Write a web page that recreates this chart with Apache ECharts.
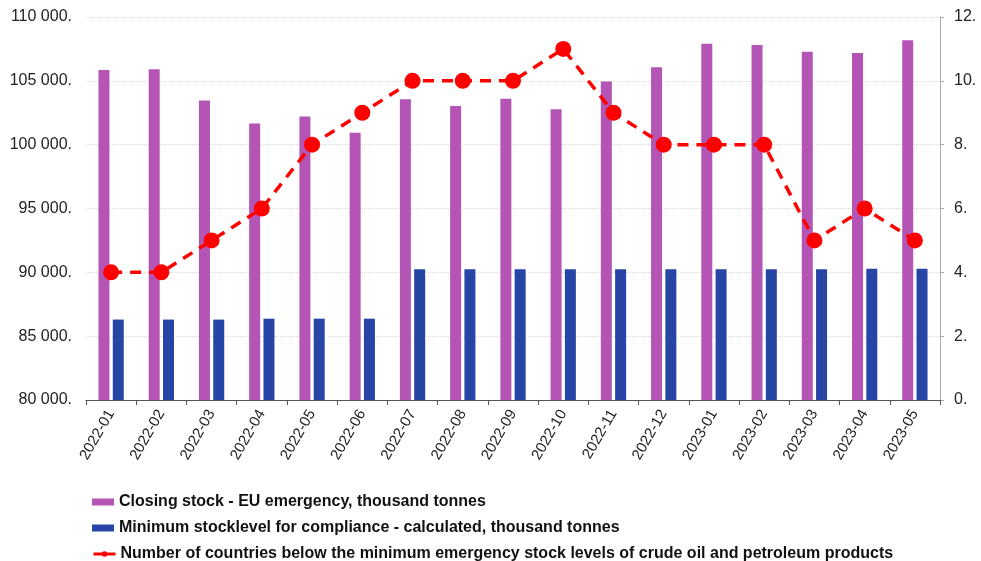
<!DOCTYPE html>
<html>
<head>
<meta charset="utf-8">
<script src="https://cdn.jsdelivr.net/npm/echarts@6/dist/echarts.min.js"></script>
<style>
  html, body { margin: 0; padding: 0; background: #fff; }
  #main { width: 981px; height: 561px; }
</style>
</head>
<body>
<div id="main"></div>
<script>
var months = ['2022-01', '2022-02', '2022-03', '2022-04', '2022-05', '2022-06', '2022-07', '2022-08', '2022-09',
    '2022-10', '2022-11', '2022-12', '2023-01', '2023-02', '2023-03', '2023-04', '2023-05'];
var closingStock = [105850, 105900, 103450, 101650, 102200, 100940, 103550, 103030, 103600,
    102770, 104940, 106060, 107910, 107810, 107280, 107180, 108180];
var minStock = [86300, 86300, 86300, 86370, 86370, 86370, 90240, 90240, 90240,
    90240, 90240, 90240, 90240, 90240, 90240, 90290, 90290];
var countriesBelow = [4, 4, 5, 6, 8, 9, 10, 10, 10, 11, 9, 8, 8, 8, 5, 6, 5];

var nameClosing = 'Closing stock - EU emergency, thousand tonnes';
var nameMin = 'Minimum stocklevel for compliance - calculated, thousand tonnes';
var nameCount = 'Number of countries below the minimum emergency stock levels of crude oil and petroleum products';

var myChart = echarts.init(document.getElementById('main'));

// "110 000." style labels
function fmtLeft(v) {
    var s = String(Math.round(v));
    return s.replace(/\B(?=(\d{3})+(?!\d))/g, ' ') + '.';
}

// one legend per row, stacked at the bottom
function legendRow(name, top, extra) {
    var item = Object.assign({name: name}, extra || {});
    return {
        left: 87,
        top: top,
        itemWidth: 22,
        itemHeight: 7,
        itemGap: 4,
        textStyle: {color: '#111', fontSize: 16, fontWeight: 'bold'},
        data: [item]
    };
}

var option = {
    animation: false,
    textStyle: {fontFamily: 'Liberation Sans, Arial, sans-serif'},
    grid: {left: 86, right: 41, top: 17, bottom: 161},
    legend: [
        legendRow(nameClosing, 489, {icon: 'rect'}),
        legendRow(nameMin, 515, {icon: 'rect'}),
        legendRow(nameCount, 541, {lineStyle: {type: 'solid', width: 3}})
    ],
    xAxis: {
        type: 'category',
        data: months,
        axisLine: {lineStyle: {color: '#555'}},
        axisTick: {show: true, lineStyle: {color: '#555'}},
        axisLabel: {rotate: 60, color: '#222', fontSize: 15, margin: 11}
    },
    yAxis: [
        {
            type: 'value',
            min: 80000,
            max: 110000,
            interval: 5000,
            axisLine: {show: false},
            axisTick: {show: false},
            axisLabel: {color: '#222', fontSize: 16, margin: 14, formatter: fmtLeft},
            splitLine: {lineStyle: {color: '#d9d9d9', type: 'dotted'}}
        },
        {
            type: 'value',
            min: 0,
            max: 12,
            interval: 2,
            position: 'right',
            axisLine: {show: true, lineStyle: {color: '#aaa'}},
            axisTick: {show: true, length: 4, lineStyle: {color: '#aaa'}},
            axisLabel: {color: '#222', fontSize: 16, margin: 14, formatter: function (v) { return v + '.'; }},
            splitLine: {show: false}
        }
    ],
    series: [
        {
            name: nameClosing,
            type: 'bar',
            data: closingStock,
            barWidth: 11,
            barGap: '30%',
            itemStyle: {color: '#B455B6'}
        },
        {
            name: nameMin,
            type: 'bar',
            data: minStock,
            barWidth: 11,
            itemStyle: {color: '#2745A5'}
        },
        {
            name: nameCount,
            type: 'line',
            yAxisIndex: 1,
            data: countriesBelow,
            symbol: 'circle',
            symbolSize: 16,
            lineStyle: {color: '#FF0000', width: 3.5, type: [11, 8]},
            itemStyle: {color: '#FF0000'}
        }
    ]
};

myChart.setOption(option);
</script>
</body>
</html>
